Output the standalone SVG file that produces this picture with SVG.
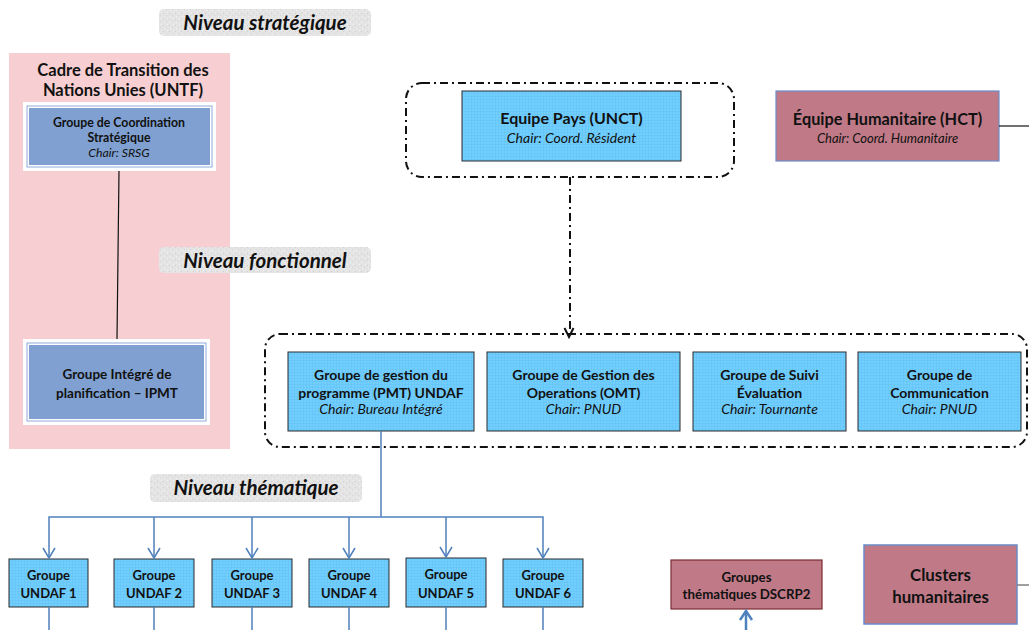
<svg xmlns="http://www.w3.org/2000/svg" width="1029" height="630" viewBox="0 0 1029 630">
<defs>
<pattern id="grid" width="3" height="3" patternUnits="userSpaceOnUse">
<rect width="3" height="3" fill="#72CEFF"/>
<path d="M0 0.5H3M0.5 0V3" stroke="#5EBDF2" stroke-width="0.6" opacity="0.7"/>
</pattern>
<pattern id="noise" width="6" height="6" patternUnits="userSpaceOnUse">
<rect width="6" height="6" fill="#E4E4E4"/>
<rect x="1" y="1" width="1" height="1" fill="#CFCFCF"/>
<rect x="4" y="3" width="1" height="1" fill="#D6D6D6"/>
<rect x="2" y="4" width="1" height="1" fill="#F2F2F2"/>
<rect x="5" y="0" width="1" height="1" fill="#F0F0F0"/>
</pattern>
</defs>
<style>
text{font-family:Lato,"Open Sans","Liberation Sans",sans-serif;fill:#111;text-anchor:middle}
.b{font-weight:bold}
.i{font-style:italic}
.lbl{font-weight:bold;font-style:italic;font-size:20.5px}
.lab{fill:url(#noise)}
.lb{fill:url(#grid);stroke:#2b2b2b;stroke-width:1}
.rose{fill:#C07A87}
.dd{fill:none;stroke:#111;stroke-width:2;stroke-dasharray:8 4 2 4}
.bl{fill:none;stroke:#4F81BD;stroke-width:1.5}
.t13{font-size:14px;font-weight:bold}
.u13{font-size:13px;font-weight:bold}
.c12{font-size:14px;font-style:italic}
</style>

<g id="untf">
<rect x="9" y="53" width="221" height="396" fill="#F7CFD2"/>
<text class="b" font-size="16.5" x="123" y="76">Cadre de Transition des</text>
<text class="b" font-size="16.5" x="123" y="96">Nations Unies (UNTF)</text>
</g>

<g id="niveau-strategique">
<rect class="lab" x="159" y="9" width="212" height="27" rx="5"/>
<text class="lbl" x="265" y="29.5">Niveau stratégique</text>
</g>
<g id="niveau-fonctionnel">
<rect class="lab" x="159" y="247" width="212" height="26" rx="5"/>
<text class="lbl" x="265" y="267.5">Niveau fonctionnel</text>
</g>
<g id="niveau-thematique">
<rect class="lab" x="150" y="474" width="212" height="28" rx="5"/>
<text class="lbl" x="256" y="495">Niveau thématique</text>
</g>

<g id="gcs">
<rect x="23" y="102" width="193" height="69" fill="#fff"/>
<rect x="27" y="106" width="185" height="61" fill="#fff" stroke="#8EAADB" stroke-width="1"/>
<rect x="29" y="108" width="181" height="57" fill="#7FA0D0"/>
<text class="b" font-size="12.3" x="119" y="126.5">Groupe de Coordination</text>
<text class="b" font-size="12.3" x="119" y="141.5">Stratégique</text>
<text class="i" font-size="12.3" x="119" y="157">Chair: SRSG</text>
</g>

<g id="ipmt">
<rect x="23" y="339" width="187" height="86" fill="#fff"/>
<rect x="27" y="343" width="179" height="78" fill="#fff" stroke="#8EAADB" stroke-width="1"/>
<rect x="29" y="345" width="175" height="74" fill="#7FA0D0"/>
<text class="b" font-size="13.5" x="117" y="379">Groupe Intégré de</text>
<text class="b" font-size="13.5" x="117" y="398">planification – IPMT</text>
</g>

<g id="unct">
<rect class="dd" x="406" y="83" width="328" height="94" rx="16"/>
<rect class="lb" x="462" y="91" width="219" height="70"/>
<text class="b" font-size="16" x="571.5" y="124">Equipe Pays (UNCT)</text>
<text class="c12" x="571.5" y="143">Chair: Coord. Résident</text>
</g>

<g id="hct">
<rect class="rose" x="776" y="91" width="223" height="70" stroke="#6A8CC7" stroke-width="1.2"/>
<text class="b" font-size="16.3" x="887.5" y="125">Équipe Humanitaire (HCT)</text>
<text class="i" font-size="13" x="887.5" y="143">Chair: Coord. Humanitaire</text>
</g>

<g id="fonctionnel">
<rect class="dd" x="265" y="334" width="762" height="113" rx="15"/>
</g>
<g id="pmt">
<rect class="lb" x="288" y="352" width="186" height="79"/>
<text class="t13" x="381" y="380">Groupe de gestion du</text>
<text class="t13" x="381" y="398">programme (PMT) UNDAF</text>
<text class="c12" x="381" y="414">Chair: Bureau Intégré</text>
</g>
<g id="omt">
<rect class="lb" x="487" y="352" width="193" height="79"/>
<text class="t13" x="583.5" y="380">Groupe de Gestion des</text>
<text class="t13" x="583.5" y="398">Operations (OMT)</text>
<text class="c12" x="583.5" y="414">Chair: PNUD</text>
</g>
<g id="suivi">
<rect class="lb" x="693" y="352" width="153" height="79"/>
<text class="t13" x="769.5" y="380">Groupe de Suivi</text>
<text class="t13" x="769.5" y="398">Évaluation</text>
<text class="c12" x="769.5" y="414">Chair: Tournante</text>
</g>
<g id="communication">
<rect class="lb" x="858" y="352" width="163" height="79"/>
<text class="t13" x="939.5" y="380">Groupe de</text>
<text class="t13" x="939.5" y="398">Communication</text>
<text class="c12" x="939.5" y="414">Chair: PNUD</text>
</g>

<g id="undaf1"><rect class="lb" x="9" y="559" width="79" height="48"/><text class="u13" x="48.5" y="579.5">Groupe</text><text class="u13" x="48.5" y="597.5">UNDAF 1</text></g>
<g id="undaf2"><rect class="lb" x="114" y="559" width="80" height="48"/><text class="u13" x="154" y="579.5">Groupe</text><text class="u13" x="154" y="597.5">UNDAF 2</text></g>
<g id="undaf3"><rect class="lb" x="212" y="559" width="80" height="48"/><text class="u13" x="252" y="579.5">Groupe</text><text class="u13" x="252" y="597.5">UNDAF 3</text></g>
<g id="undaf4"><rect class="lb" x="309" y="559" width="80" height="48"/><text class="u13" x="349" y="579.5">Groupe</text><text class="u13" x="349" y="597.5">UNDAF 4</text></g>
<g id="undaf5"><rect class="lb" x="406" y="558" width="80" height="49"/><text class="u13" x="446" y="578.5">Groupe</text><text class="u13" x="446" y="597.5">UNDAF 5</text></g>
<g id="undaf6"><rect class="lb" x="503" y="559" width="80" height="48"/><text class="u13" x="543" y="579.5">Groupe</text><text class="u13" x="543" y="597.5">UNDAF 6</text></g>

<g id="dscrp2">
<rect class="rose" x="671" y="560" width="151" height="49" stroke="#7B2B33" stroke-width="1.2"/>
<text class="b" font-size="13.3" x="746.5" y="581.5">Groupes</text>
<text class="b" font-size="13.3" x="746.5" y="598.5">thématiques DSCRP2</text>
</g>
<g id="clusters">
<rect class="rose" x="864" y="545" width="153" height="79" stroke="#6A8CC7" stroke-width="1.5"/>
<text class="b" font-size="16.8" x="940.5" y="581">Clusters</text>
<text class="b" font-size="16.8" x="940.5" y="603">humanitaires</text>
</g>

<g id="connectors">
<line x1="119" y1="171" x2="117" y2="339" stroke="#111" stroke-width="1.2"/>
<line x1="999" y1="126" x2="1029" y2="126" stroke="#111" stroke-width="1.2"/>
<line class="dd" x1="570" y1="177" x2="570" y2="334"/>
<polyline points="564.5,328 569,337 573.5,328" fill="none" stroke="#111" stroke-width="2"/>
<polyline class="bl" points="381,431 381,517"/>
<polyline class="bl" points="49,558 49,517 543,517 543,558"/>
<line class="bl" x1="154" y1="517" x2="154" y2="558"/>
<line class="bl" x1="252" y1="517" x2="252" y2="558"/>
<line class="bl" x1="349" y1="517" x2="349" y2="558"/>
<line class="bl" x1="446" y1="517" x2="446" y2="557"/>
<g class="bl">
<polyline points="43,548 49,558 55,548"/>
<polyline points="148,548 154,558 160,548"/>
<polyline points="246,548 252,558 258,548"/>
<polyline points="343,548 349,558 355,548"/>
<polyline points="440,547 446,557 452,547"/>
<polyline points="537,548 543,558 549,548"/>
</g>
<line class="bl" x1="49" y1="607" x2="49" y2="630"/>
<line class="bl" x1="154" y1="607" x2="154" y2="630"/>
<line class="bl" x1="252" y1="607" x2="252" y2="630"/>
<line class="bl" x1="349" y1="607" x2="349" y2="630"/>
<line class="bl" x1="446" y1="607" x2="446" y2="630"/>
<line class="bl" x1="543" y1="607" x2="543" y2="630"/>
<line x1="746" y1="611" x2="746" y2="630" stroke="#4F81BD" stroke-width="2.5"/>
<polyline points="740,620 746,611 752,620" fill="none" stroke="#4F81BD" stroke-width="2.5"/>
<line x1="1017" y1="585" x2="1029" y2="585" stroke="#7f7f7f" stroke-width="1.5"/>
</g>
</svg>
